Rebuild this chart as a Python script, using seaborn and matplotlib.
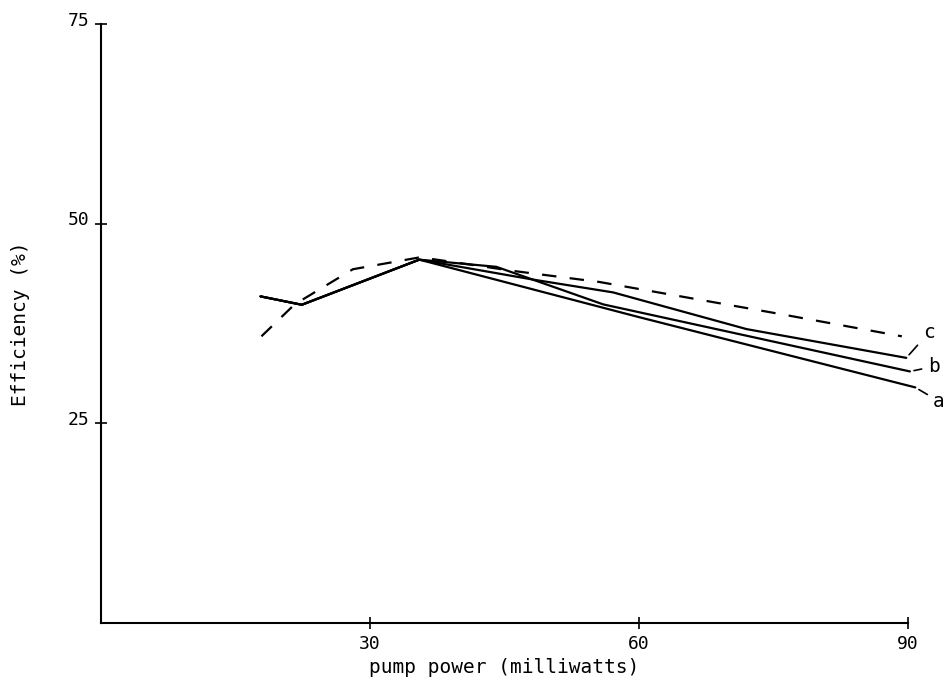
"""Pump power vs efficiency, plotter-style line chart."""

import matplotlib

matplotlib.use("Agg")
import matplotlib.pyplot as plt
import matplotlib.transforms as mtransforms
import pandas as pd
import seaborn as sns

# Data
a_power = [17.8, 22.4, 35.5, 60.0, 90.8]
a_eff = [40.9, 39.85, 45.5, 38.3, 29.5]

b_power = [17.8, 22.4, 35.5, 44.1, 56.0, 90.2]
b_eff = [40.9, 39.85, 45.5, 44.6, 39.9, 31.5]

c_power = [17.8, 22.4, 35.5, 48.2, 57.1, 72.0, 89.8]
c_eff = [40.9, 39.85, 45.5, 43.0, 41.4, 36.8, 33.2]

dash_power = [17.9, 21.6, 28.1, 35.6, 45.9, 55.6, 75.7, 89.3]
dash_eff = [35.9, 39.9, 44.3, 45.8, 44.1, 42.7, 38.7, 35.9]

x_ticks = [30, 60, 90]
y_ticks = [25, 50, 75]

FONT = "DejaVu Sans Mono"

sns.set_style("white")
plt.rcParams["font.family"] = [FONT]
plt.rcParams["text.color"] = "black"
plt.rcParams["axes.labelcolor"] = "black"

fig = plt.figure(figsize=(9.43, 6.88), dpi=100)
ax = fig.add_axes([0.107, 0.0945, 0.856, 0.8705])

solid = {"color": "black", "linewidth": 1.6, "clip_on": False}
for xs, ys in [(a_power, a_eff), (b_power, b_eff), (c_power, c_eff)]:
    df = pd.DataFrame({"power": xs, "eff": ys})
    sns.lineplot(data=df, x="power", y="eff", sort=False, estimator=None, ax=ax, **solid)

df_dash = pd.DataFrame({"power": dash_power, "eff": dash_eff})
sns.lineplot(
    data=df_dash,
    x="power",
    y="eff",
    sort=False,
    estimator=None,
    ax=ax,
    color="black",
    linewidth=1.6,
    clip_on=False,
)
ax.lines[-1].set_dashes((6.5, 6))

# curve labels with leader lines
leader = dict(arrowstyle="-", color="black", lw=1.2, shrinkA=2, shrinkB=3)
ax.annotate("c", xy=(c_power[-1], c_eff[-1]), xytext=(16, 18), textcoords="offset points",
            fontsize=14, ha="center", va="center", arrowprops=leader, annotation_clip=False)
ax.annotate("b", xy=(b_power[-1], b_eff[-1]), xytext=(17, 3.5), textcoords="offset points",
            fontsize=14, ha="center", va="center", arrowprops=leader, annotation_clip=False)
ax.annotate("a", xy=(a_power[-1], a_eff[-1]), xytext=(17, -10), textcoords="offset points",
            fontsize=14, ha="center", va="center", arrowprops=leader, annotation_clip=False)

ax.set_xlim(0, 90)
ax.set_ylim(0, 75)
ax.set_xticks(x_ticks)
ax.set_yticks(y_ticks)
ax.tick_params(bottom=True, left=True, direction="inout", length=9, width=1.2,
               colors="black", labelsize=13)
ax.tick_params(axis="x", pad=4)
ax.tick_params(axis="y", pad=4)
# y tick labels sit a little above their ticks in the original
shift = mtransforms.ScaledTranslation(0, 4 / 72, fig.dpi_scale_trans)
for lab in ax.get_yticklabels():
    lab.set_transform(lab.get_transform() + shift)

for side in ["top", "right"]:
    ax.spines[side].set_visible(False)
for side in ["left", "bottom"]:
    ax.spines[side].set_color("black")
    ax.spines[side].set_linewidth(1.5)

ax.set_xlabel("pump power (milliwatts)", fontsize=14, labelpad=4)
ax.set_ylabel("Efficiency (%)", fontsize=14)
ax.yaxis.set_label_coords(-0.088, 0.5)

fig.savefig("out.png", dpi=100, facecolor="white")
